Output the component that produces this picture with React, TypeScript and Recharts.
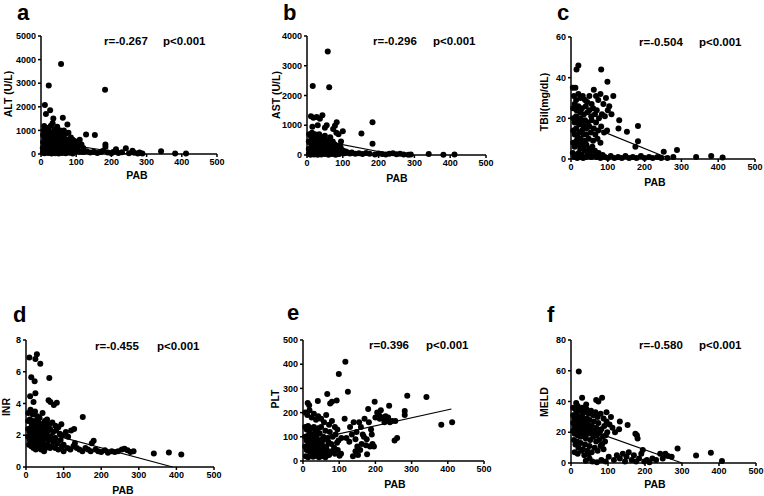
import React from 'react';
import { ScatterChart, Scatter, XAxis, YAxis, ReferenceLine } from 'recharts';

type P = [number, number];

const pabTicks = [0, 100, 200, 300, 400, 500];
const altTicks = [0, 1000, 2000, 3000, 4000, 5000];
const astTicks = [0, 1000, 2000, 3000, 4000];
const tbilTicks = [0, 20, 40, 60];
const inrTicks = [0, 2, 4, 6, 8];
const pltTicks = [0, 100, 200, 300, 400, 500];
const meldTicks = [0, 20, 40, 60, 80];

const altPoints: P[] = [
  [57,3810],[22,2900],[182,2720],[11,2080],[26,1850],[14,1690],[35,1500],[62,1540],[75,1250],[9,1190],[128,830],[153,810],[183,400],[183,300],[241,240],[341,115],[381,25],[412,25],[213,200],[260,140],[280,60],[288,20],
  [8,1000],[12,950],[18,1100],[22,1000],[28,1200],[33,1300],[38,1050],[42,900],[46,1150],[50,950],[55,1000],[60,900],[65,1000],[70,850],[78,900],[85,700],[90,600],[95,550],[100,500],[105,300],[110,600],[115,400],[120,250],
  [6,800],[10,700],[14,850],[18,650],[22,800],[26,700],[30,900],[34,750],[38,650],[44,700],[48,600],[54,750],[58,550],[64,650],[68,500],[74,600],[80,450],[88,400],
  [6,500],[10,450],[14,550],[18,400],[22,500],[26,350],[30,550],[34,450],[38,400],[42,500],[46,350],[50,450],[56,300],[62,400],[70,300],[76,350],[84,250],[92,300],[98,200],
  [5,250],[8,150],[12,300],[16,200],[20,250],[24,150],[28,300],[32,200],[36,250],[40,150],[44,250],[48,100],[52,200],[58,150],[64,100],[70,200],[78,100],[86,150],[94,80],[102,150],[110,100],
  [5,50],[10,30],[15,80],[20,40],[25,60],[30,20],[35,70],[40,30],[45,50],[50,20],[60,40],[70,30],[80,50],[90,20],
  [120,80],[130,120],[140,60],[150,100],[160,40],[170,80],[175,130],[190,60],[200,30],[205,90],[220,40],[230,70],[250,30],[265,50],[275,20],
];

const astPoints: P[] = [
  [58,3480],[16,2320],[62,2280],[11,1300],[18,1250],[27,1280],[36,1220],[43,1340],[83,1100],[183,1100],[100,800],[152,720],[183,380],[78,980],[73,870],[30,1000],[15,950],[55,1000],[50,920],[88,700],[82,750],[65,600],[95,450],
  [6,700],[10,650],[14,750],[18,600],[22,700],[26,550],[30,650],[34,700],[38,550],[42,600],[46,500],[50,650],[55,450],[60,500],[66,400],[72,450],[78,350],[86,300],[94,250],
  [5,450],[9,400],[13,500],[17,350],[21,450],[25,300],[29,400],[33,350],[37,450],[41,300],[45,400],[49,250],[54,350],[59,250],[64,300],[70,200],[76,250],[84,150],[92,200],[100,150],[108,120],
  [5,200],[8,100],[12,250],[16,150],[20,200],[24,100],[28,200],[32,120],[36,180],[40,80],[44,150],[48,60],[52,120],[58,80],[64,150],[70,60],[78,100],[86,50],[94,90],[104,60],[112,90],[120,50],
  [5,30],[10,10],[15,50],[20,20],[25,40],[30,10],[40,20],[50,30],[60,10],[70,30],[80,10],[90,30],
  [125,80],[135,40],[145,60],[155,30],[165,70],[175,40],[190,20],[200,50],[210,30],[220,15],[230,40],[240,60],[250,25],[260,40],[270,20],[283,10],[290,20],[340,35],[381,10],[412,15],
];

const tbilPoints: P[] = [
  [20,46],[15,44],[82,44],[99,38],[115,31],[5,35],[12,35],[131,19],[129,15],[152,13.4],[182,16.2],[182,8.7],[175,6],[252,3.6],[288,4.4],[340,1],[381,1.5],[412,0.7],[278,1],
  [8,31],[14,29],[20,32],[26,30],[32,31],[38,29],[44,28],[50,31],[56,27],[62,34],[68,31],[74,29],[80,32],[88,27],[95,30],[104,26],[110,22],
  [6,25],[10,27],[15,24],[20,26],[25,23],[30,25],[35,22],[40,26],[45,23],[50,24],[55,21],[60,25],[65,22],[70,24],[76,20],[84,22],[92,21],[100,24],
  [6,20],[10,18],[14,21],[18,19],[22,17],[26,20],[30,18],[34,16],[38,19],[42,15],[46,18],[50,16],[56,19],[62,15],[68,18],[74,14],[82,16],[90,13],[98,14],
  [6,14],[10,12],[14,15],[18,11],[22,13],[26,10],[30,14],[34,12],[38,9],[42,12],[48,10],[54,13],[60,9],[66,12],[72,10],[80,8],
  [6,8],[10,6],[15,9],[20,7],[25,5],[30,8],[35,6],[42,7],[50,5],[58,6],[65,4],
  [5,3],[9,1],[13,2],[17,0.5],[21,3],[25,1],[29,2],[33,0.5],[37,4],[41,1],[45,2],[50,3],[55,1],[60,4],[65,2],[70,1],[75,3],[80,0.5],[86,2],[92,1],[100,0.5],[108,1.5],[118,0.5],[128,1],[138,0.5],[148,1.5],[158,0.5],[168,1],[178,0.5],[190,1.5],[200,0.5],[212,1],[222,0.5],[235,1],[245,0.5],[262,0.5],
];

const inrPoints: P[] = [
  [9,6.9],[29,7.1],[25,6.8],[38,6.5],[14,5.65],[23,5.4],[62,5.6],[25,4.65],[11,4.45],[20,4.1],[60,4.2],[65,4.1],[74,3.9],[82,4.05],[151,3.15],[340,0.85],[380,0.92],[413,0.78],[286,1.0],[278,0.95],[180,1.65],[175,1.5],
  [6,3.4],[12,3.6],[18,3.3],[24,3.5],[30,3.2],[36,3.1],[44,3.4],[50,2.9],[56,3.0],[62,2.7],[70,2.8],[78,2.6],[86,2.5],[94,2.7],
  [6,2.9],[10,3.0],[14,2.8],[18,2.9],[22,2.7],[26,2.9],[30,2.6],[34,2.8],[38,2.5],[42,2.7],[46,2.4],[52,2.6],[58,2.3],[64,2.4],[72,2.2],[80,2.3],[90,2.1],[98,2.0],[106,2.2],[112,1.9],[120,2.3],[128,2.4],[130,1.5],
  [6,2.4],[10,2.2],[14,2.5],[18,2.3],[22,2.1],[26,2.4],[30,2.2],[34,2.0],[38,2.2],[42,1.9],[46,2.1],[50,1.8],[55,2.0],[60,1.7],[66,1.9],[72,1.6],[78,1.8],[84,1.5],[92,1.7],[100,1.4],
  [6,1.9],[10,1.7],[14,2.0],[18,1.6],[22,1.8],[26,1.5],[30,1.7],[34,1.4],[38,1.6],[42,1.3],[46,1.5],[52,1.2],[58,1.4],[64,1.2],[70,1.3],[78,1.2],[86,1.1],[96,1.3],
  [8,1.4],[14,1.3],[20,1.2],[26,1.1],[32,1.2],[40,1.1],[48,1.0],[100,1.0],[110,1.2],[118,1.1],[126,1.3],
  [135,1.2],[142,1.1],[150,1.0],[158,1.2],[165,1.1],[172,1.0],[185,1.1],[192,1.0],[200,0.95],[210,1.05],[218,0.9],[228,1.0],[236,0.95],[245,1.0],[255,1.1],[262,1.15],[270,1.05],
];

const pltPoints: P[] = [
  [117,410],[99,360],[124,286],[67,277],[288,270],[341,264],[382,150],[412,160],[93,250],[41,248],[13,240],[17,230],[75,238],[80,245],[198,245],[238,228],[180,215],[281,207],[281,190],[255,165],[260,95],[253,85],[152,25],[177,28],[101,22],[105,30],[138,20],
  [115,175],[130,140],[140,160],[148,120],[155,160],[160,140],[165,110],[170,175],[176,90],[182,160],[188,130],[192,70],[196,60],[200,180],[205,200],[210,190],[215,210],[220,180],[225,160],[230,170],[235,180],[240,160],[246,165],[228,185],[212,175],[120,95],[128,80],[135,110],[145,90],[150,60],[158,45],[162,70],[168,100],[174,65],[185,60],[190,110],[145,40],
  [6,200],[12,190],[18,210],[24,180],[30,195],[36,170],[42,185],[50,175],[58,160],[64,190],[72,150],[80,165],[88,140],[95,130],
  [6,140],[10,130],[14,145],[18,120],[22,135],[26,110],[30,140],[34,125],[38,105],[42,135],[46,115],[50,140],[56,100],[62,125],[68,95],[74,120],[82,100],[90,110],[98,85],[106,95],
  [6,100],[10,85],[14,105],[18,75],[22,95],[26,80],[30,100],[34,70],[38,90],[42,65],[46,85],[52,75],[58,90],[64,60],[70,80],[78,70],[86,55],[94,75],
  [6,60],[10,45],[14,65],[18,40],[22,55],[26,35],[30,60],[34,45],[38,30],[42,50],[48,40],[54,55],[60,35],[66,45],[72,25],[80,40],[88,30],[96,45],
  [8,20],[14,15],[20,25],[28,18],[36,22],[44,15],[52,20],[62,15],
];

const meldPoints: P[] = [
  [21,59.5],[30,42.5],[84,42.5],[68,41],[74,40],[14,39],[41,38],[96,33],[108,30],[153,24.7],[132,27],[130,22],[119,20],[174,19],[178,18],[180,16],[288,9.5],[338,4.8],[378,6.7],[408,1.3],[241,6],[255,6],[262,4.5],[272,4],[194,8.5],[248,3],[230,2],
  [6,36],[12,35],[18,37],[24,34],[30,36],[36,33],[42,35],[48,32],[54,34],[60,31],[66,33],[72,30],[80,32],[88,29],[96,27],[104,25],[112,23],
  [6,31],[10,29],[14,32],[18,28],[22,30],[26,27],[30,31],[34,28],[38,26],[42,29],[46,25],[50,28],[56,24],[62,27],[68,23],[74,26],[82,22],[90,24],[98,20],
  [6,26],[10,24],[14,27],[18,23],[22,25],[26,22],[30,26],[34,23],[38,21],[42,24],[46,20],[52,22],[58,19],[64,21],[70,18],[78,20],[86,17],[94,18],
  [6,21],[10,19],[14,22],[18,18],[22,20],[26,17],[30,21],[34,18],[40,16],[46,19],[52,15],[60,17],[68,14],[76,15],[84,12],[92,14],
  [8,15],[12,12],[16,14],[20,10],[26,13],[32,9],[38,12],[44,8],[50,11],[56,7],[64,10],[72,8],[80,11],[88,9],
  [10,7],[18,6],[28,8],[36,5],[48,6],
  [40,1.5],[50,3],[58,1],[70,0.5],[82,2],[94,1],[102,4],[116,2],[124,5],[132,3],[140,6],[146,1],[150,4],[156,7],[164,2],[170,5],[176,1],[184,3],[190,6],[198,1],[205,2],[212,0.5],[220,3],
];

// regression line end points [PAB, value]
const altLine: P[] = [[5, 560], [250, 0]];
const astLine: P[] = [[5, 570], [250, 0]];
const tbilLine: P[] = [[5, 19.5], [270, 0]];
const inrLine: P[] = [[5, 2.45], [390, 0]];
const pltLine: P[] = [[5, 81], [410, 215]];
const meldLine: P[] = [[5, 25.3], [300, 0]];

const FONT = '"Liberation Sans", Arial, Helvetica, sans-serif';

type Panel = {
  letter: string; yTitle: string; r: string;
  pts: P[]; line: P[]; yMax: number; yTicks: number[];
  cx: number; cy: number; cw: number; ch: number;
  x0: number; x1: number; yTop: number; yBot: number;
  lx: number; ly: number; ax: number; px: number; ay: number;
  ytx: number; yty: number; xtx: number; xty: number;
};

const panels: Panel[] = [
  { letter: 'a', yTitle: 'ALT (U/L)', r: 'r=-0.267', pts: altPoints, line: altLine, yMax: 5000, yTicks: altTicks,
    cx: 0, cy: 0, cw: 250, ch: 195, x0: 41, x1: 217, yTop: 36, yBot: 154,
    lx: 17, ly: 20, ax: 104, px: 163, ay: 45, ytx: 12, yty: 94, xtx: 137, xty: 179 },
  { letter: 'b', yTitle: 'AST (U/L)', r: 'r=-0.296', pts: astPoints, line: astLine, yMax: 4000, yTicks: astTicks,
    cx: 250, cy: 0, cw: 250, ch: 195, x0: 307, x1: 486, yTop: 36, yBot: 155,
    lx: 283, ly: 20, ax: 373, px: 433, ay: 45, ytx: 279.5, yty: 95, xtx: 397, xty: 182 },
  { letter: 'c', yTitle: 'TBil(mg/dL)', r: 'r=-0.504', pts: tbilPoints, line: tbilLine, yMax: 60, yTicks: tbilTicks,
    cx: 500, cy: 0, cw: 264, ch: 195, x0: 571, x1: 755, yTop: 37, yBot: 159,
    lx: 557, ly: 20, ax: 639, px: 699, ay: 45.5, ytx: 547.5, yty: 102, xtx: 655, xty: 186 },
  { letter: 'd', yTitle: 'INR', r: 'r=-0.455', pts: inrPoints, line: inrLine, yMax: 8, yTicks: inrTicks,
    cx: 0, cy: 300, cw: 250, ch: 196, x0: 26, x1: 214, yTop: 340, yBot: 467,
    lx: 13, ly: 322, ax: 95, px: 157, ay: 350, ytx: 10, yty: 407, xtx: 123, xty: 494 },
  { letter: 'e', yTitle: 'PLT', r: 'r=0.396', pts: pltPoints, line: pltLine, yMax: 500, yTicks: pltTicks,
    cx: 250, cy: 300, cw: 250, ch: 196, x0: 303, x1: 484, yTop: 340, yBot: 461,
    lx: 287, ly: 320, ax: 369, px: 426, ay: 349, ytx: 279, yty: 399, xtx: 395, xty: 488 },
  { letter: 'f', yTitle: 'MELD', r: 'r=-0.580', pts: meldPoints, line: meldLine, yMax: 80, yTicks: meldTicks,
    cx: 500, cy: 300, cw: 264, ch: 196, x0: 571, x1: 756, yTop: 340, yBot: 463,
    lx: 547, ly: 322, ax: 639, px: 699, ay: 349, ytx: 548, yty: 402, xtx: 655, xty: 488 },
];

const Dot = (props: any) => <circle cx={props.cx} cy={props.cy} r={3} fill="#000" />;

const tickStyle = { fontSize: 9, fontWeight: 'bold' as const, fill: '#000', fontFamily: FONT };

function PanelChart({ p }: { p: Panel }) {
  const data = p.pts.map(([x, y]) => ({ x, y }));
  const xh = 20;
  const margin = {
    top: p.yTop - p.cy,
    right: p.cx + p.cw - p.x1,
    bottom: p.cy + p.ch - p.yBot - xh,
    left: 0,
  };
  return (
    <div style={{ position: 'absolute', left: p.cx, top: p.cy, width: p.cw, height: p.ch }}>
      <ScatterChart width={p.cw} height={p.ch} margin={margin}>
        <XAxis type="number" dataKey="x" domain={[0, 500]} ticks={pabTicks} height={xh}
          tick={tickStyle} tickSize={3} tickMargin={2}
          axisLine={{ stroke: '#000', strokeWidth: 1.5 }} tickLine={{ stroke: '#000', strokeWidth: 1.5 }} />
        <YAxis type="number" dataKey="y" domain={[0, p.yMax]} ticks={p.yTicks} width={p.x0 - p.cx}
          tick={tickStyle} tickSize={3} tickMargin={2} interval={0}
          axisLine={{ stroke: '#000', strokeWidth: 1.5 }} tickLine={{ stroke: '#000', strokeWidth: 1.5 }} />
        <Scatter data={data} fill="#000" shape={Dot} isAnimationActive={false} />
        <ReferenceLine segment={[{ x: p.line[0][0], y: p.line[0][1] }, { x: p.line[1][0], y: p.line[1][1] }]}
          stroke="#000" strokeWidth={1.2} ifOverflow="visible" />
      </ScatterChart>
    </div>
  );
}

export default function App() {
  return (
    <div style={{ position: 'absolute', left: 0, top: 0, width: 764, height: 496, background: '#fff', overflow: 'hidden' }}>
      {panels.map((p) => <PanelChart key={p.letter} p={p} />)}
      <svg width={764} height={496} style={{ position: 'absolute', left: 0, top: 0, pointerEvents: 'none' }}
        fontFamily={FONT} fontWeight="bold" fill="#000">
        {panels.map((p) => (
          <g key={p.letter}>
            <text x={p.lx} y={p.ly} fontSize={22}>{p.letter}</text>
            <text x={p.ax} y={p.ay} fontSize={11.5}>{p.r}</text>
            <text x={p.px} y={p.ay} fontSize={11.5}>p&lt;0.001</text>
            <text x={p.ytx} y={p.yty} fontSize={10.5} textAnchor="middle"
              transform={`rotate(-90 ${p.ytx} ${p.yty})`}>{p.yTitle}</text>
            <text x={p.xtx} y={p.xty} fontSize={10.5} textAnchor="middle">PAB</text>
          </g>
        ))}
      </svg>
    </div>
  );
}
